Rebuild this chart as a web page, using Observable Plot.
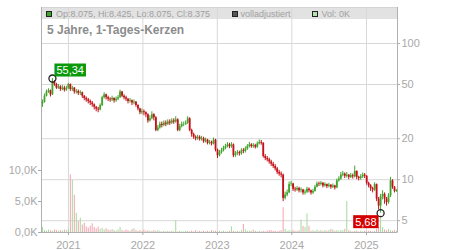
<!DOCTYPE html>
<html><head><meta charset="utf-8">
<script src="https://cdn.jsdelivr.net/npm/d3@7"></script>
<script src="https://cdn.jsdelivr.net/npm/@observablehq/plot@0.6"></script>
<style>
body{margin:0;background:#fff;font-family:Arial,"Liberation Sans",sans-serif;}
#wrap{position:relative;width:450px;height:250px;overflow:hidden;}
#wrap svg{position:absolute;left:0;top:0;}
.band{position:absolute;left:41px;top:8px;width:356px;height:11px;background:#e2e2e2;}
.lg{position:absolute;top:8.5px;font-size:9px;line-height:11px;color:#a0a0a0;white-space:nowrap;}
.sq{position:absolute;top:11px;width:4px;height:4px;border:1px solid #222;}
.title{position:absolute;left:47px;top:22.8px;font-size:12px;line-height:14px;font-weight:bold;color:#8c8c8c;white-space:nowrap;}
</style></head><body><div id="wrap"><div class="band"></div></div>
<script>
// ---- data ----
const priceTicks = [5, 10, 20, 50, 100];
const volumeTicks = [0, 5, 10];
const yearTicks = [2021, 2022, 2023, 2024, 2025];
const titleText = "5 Jahre, 1-Tages-Kerzen";
const legendOHLC = "Op:8.075, Hi:8.425, Lo:8.075, Cl:8.375";
const legendAdj = "volladjustiert";
const legendVol = "Vol: 0K";
const firstOpen = 36;
const closes = [
 37,41,44,45,42,52,50,47,48,46,47,45.5,47,50,46,47,44,44.5,43,43.5,
 41,39.5,38.5,37.5,36.5,35.5,34,33,32.5,35,40,42,40,39,38.5,39.5,38,39,40,44,
 41,40,39,37.5,38,36.5,37,35,33,31,31.5,31,30,27,28,30,28.5,23,24,25.5,
 25,26,25.5,26.5,26,27,26.5,27.5,23,24.5,25.5,25.5,26,28,23,21.5,20.5,20,20.5,19.8,
 20,19,19.5,18.5,18.8,18.3,19.5,16.5,15,15.8,16.3,17,17.5,18,17.5,18,15,15.5,15.8,15.5,
 16.3,16.1,16.8,17.5,18,17.5,17.8,17.3,18.3,18.8,18.5,14.8,14.3,14,13.5,13,12.5,12,11.3,11,
 10.8,7.3,7.7,8,9.2,9.3,8.5,8.4,8.6,8.3,8.4,8.0,8.1,8.5,8.3,8.0,8.2,8.8,9.3,9.2,
 9.4,9.0,9.2,8.9,9.1,8.8,9.0,8.7,9.8,10.1,10.8,11,10.6,10.8,10.4,10.7,10.5,11.5,10.4,10.2,
 10.5,10.8,10.6,9.4,9.0,8.6,8.4,9.2,7.2,6.4,7.5,7.8,7.2,6.8,7.6,9.8,8.8,8.2,8.375
];
const highs = [
 38.5,42.5,45.5,46.5,45.5,55.34,53.5,51,50,49,49,48.5,48.5,51,50.5,48.5,47.5,46,45.5,45,
 44,41.5,40.5,39.5,38.5,37.5,36,34.5,34,36,41,43.5,42.5,41,40,41,40,40.5,41.5,45.5,
 44.5,42,41,39.5,39.5,38.5,38.5,37.5,35.5,33.5,33,32.5,31.5,30.5,29.5,31.5,30.5,29,25,26.5,
 26.5,27,27,27.5,27.5,28,28,29,28,25.5,26.5,26.5,27,29,28.5,23.5,22,21,21.2,21,
 20.8,20.5,20.2,19.8,19.4,19.2,20.2,19.8,16.8,16.4,17,17.6,18.2,18.7,18.5,18.7,18.3,16.1,16.4,16.2,
 16.9,16.9,17.4,18.1,18.8,18.4,18.4,18.2,18.9,19.6,19.4,18.7,15.3,14.8,14.4,13.9,13.4,12.9,12.3,11.7,
 11.4,11,8.1,8.4,9.6,9.7,9.4,8.8,8.9,8.8,8.7,8.5,8.4,8.8,8.7,8.4,8.5,9.1,9.6,9.6,
 9.7,9.5,9.5,9.3,9.4,9.2,9.3,9.1,10.1,10.5,11.3,11.5,11.2,11.3,10.9,11.1,11,12.6,11.6,10.6,
 10.9,11.2,11.1,10.7,9.6,9.2,8.8,9.5,9.3,7.4,7.8,8.3,8,7.4,7.9,10.4,10,8.9,8.425
];
const lows = [
 34,36.5,40.5,43,40.5,41.5,48.5,46,46,44.5,45,44,44.5,46,44.5,44.5,42.5,42.5,41.5,41.5,
 39.5,38,37,36,35,34,32.5,31.5,31,32,34.5,39,38.5,37.5,37,37.5,36.5,37,38,39.5,
 40,38.5,37.5,36,36.5,35,35.5,34,32,30,30,29.5,28.5,26,26.5,27.5,27,22.5,22.5,23.5,
 24,24.5,24.5,25,25,25.5,25.5,26,22.5,22.5,24,24.5,25,25.5,22.5,20.5,19.8,19.3,19.5,19.2,
 19.2,18.5,18.6,18,18,17.7,18,16,14.3,14.7,15.4,16,16.6,17.1,16.9,17,14.5,14.6,15,14.9,
 15.1,15.5,15.7,16.4,17.1,17,17,16.8,17,18,17.9,14.4,13.8,13.5,13,12.5,12.1,11.6,10.9,10.6,
 10.3,6.9,7.1,7.5,7.9,8.9,8.2,8.1,8.2,8,8,7.7,7.7,7.9,8,7.7,7.8,8.1,8.7,8.9,
 9,8.7,8.8,8.6,8.7,8.5,8.6,8.4,8.6,9.6,9.9,10.5,10.2,10.3,10,10.2,10.1,10.3,10,9.8,
 9.9,10.2,10.2,9.1,8.7,8.2,8,8.2,6.9,6,5.68,7.1,6.6,6.4,6.6,7.4,8.5,8,8.075
];
const volumes = [ // in thousands
 0.8,0.3,0.2,0.4,0.3,0.2,0.4,0.3,0.2,0.3,0.2,0.4,0.3,0.5,
 9.3,8.4,6.0,3.1,1.8,2.3,1.2,
 1.5,0.9,0.7,1.0,1.4,0.8,0.6,0.9,0.5,0.7,0.4,0.6,
 0.4,0.3,0.5,0.3,0.2,0.4,0.8,0.3,0.2,0.4,0.3,0.2,0.5,0.6,0.3,0.2,0.3,0.2,0.4,0.2,0.3,0.2,0.2,0.3,0.2,0.3,0.2,0.1,
 0.2,0.1,0.2,0.1,0.2,0.1,1.9,0.1,0.2,0.1,0.1,0.2,
 0.2,0.1,0.2,0.1,0.3,0.1,0.2,0.1,0.2,0.1,0.2,0.1,0.3,0.2,0.2,0.1,0.2,0.1,0.2,0.1,0.1,0.2,0.9,0.2,0.1,0.2,0.1,0.3,
 1.3,
 0.4,0.2,0.2,0.2,0.4,0.2,0.1,0.2,0.1,0.2,0.1,0.2,0.3,0.3,0.2,0.2,0.1,0.2,
 0.3,4.0,0.5,
 0.2,0.3,0.2,0.3,0.2,0.2,0.3,
 2.0,1.0,0.8,3.0,1.0,
 0.2,0.3,0.2,0.4,0.2,0.3,0.2,0.3,0.2,
 0.3,0.5,0.4,0.2,0.3,0.2,0.3,
 0.3,0.5,5.0,0.3,
 0.2,0.1,0.2,0.2,0.1,0.2,0.1,0.2,0.1,0.2,0.2,0.1,0.2,
 0.5,0.8,2.7,0.8,
 0.4,0.3,0.5,0.3,0.2,0.3,0.2
];
const annotations = [
  {i:5, value:55.34, label:"55,34", box:"#0a990a", side:"above"},
  {i:170, value:5.68, label:"5,68", box:"#d40000", side:"below"}
];

// ---- build ----
const t0 = Date.UTC(2020,7,22), t1 = Date.UTC(2025,5,2);
const step = (t1 - t0) / closes.length;
const dates = closes.map((_, i) => new Date(t0 + (i + 0.5) * step));
const candles = closes.map((c, i) => {
  const o = i === 0 ? firstOpen : closes[i-1];
  return {date: dates[i], open: o, close: c,
    high: Math.max(o, c, highs[i]), low: Math.min(o, c, lows[i]),
    vol: volumes[i], up: c >= o};
});
const years = yearTicks.map(y => new Date(Date.UTC(y,0,1)));
const ann = annotations.map(a => ({...a, date: dates[a.i]}));
const GREEN = "#3fa52c", RED = "#c41018", VGREEN = "#a4d99c", VRED = "#f2a3ad";
const AXIS = "#a8a8a8", GRID = "#d8d8d8";
const font = "Arial, 'Liberation Sans', sans-serif";
const base = {width:450, height:250, marginLeft:41, marginRight:53, marginTop:7, marginBottom:18,
  style:{background:"transparent", fontFamily:font}};
const xs = {type:"utc", domain:[new Date(t0), new Date(t1)]};
const ys = {type:"log", domain:[4.095, 183.8]};

const wrap = document.getElementById("wrap");

// layer A: grid, frame, price axis (right)
const A = Plot.plot({...base, x:{...xs, axis:null}, y:{...ys, axis:null}, marks:[
  Plot.ruleX(years, {stroke:GRID}),
  Plot.ruleY(priceTicks, {stroke:GRID}),
  Plot.frame({stroke:"#d4d4d4"}),
  Plot.ruleX([new Date(t1)], {stroke:"#b0b0b0"}),
  Plot.ruleY(priceTicks, {stroke:"#b0b0b0", insetLeft:356, insetRight:-3}),
  Plot.text(priceTicks, {y:d => d, text:d => String(d), frameAnchor:"right", textAnchor:"start",
    dx:4, fill:AXIS, fontSize:11})
]});
wrap.appendChild(A);

// layer B: volume, left axis, time axis
const B = Plot.plot({...base, x:{...xs, axis:null}, y:{domain:[0, 36.3], axis:null}, color:{type:"identity"}, marks:[
  Plot.ruleX(candles, {x:"date", y1:0, y2:"vol", stroke:d => d.up ? VGREEN : VRED, strokeWidth:1}),
  Plot.ruleX([new Date(t0)], {stroke:"#b0b0b0"}),
  Plot.ruleY([0], {stroke:"#b0b0b0"}),
  Plot.axisY(volumeTicks, {anchor:"left", tickSize:3, tickPadding:1,
    tickFormat:v => v.toFixed(1).replace(".", ",") + "K", label:null, fontSize:11, color:AXIS}),
  Plot.axisX(years, {tickSize:3, tickFormat:d => String(d.getUTCFullYear()), label:null, fontSize:11, color:AXIS})
]});
wrap.appendChild(B);

// layer C: candles and annotations
const C = Plot.plot({...base, x:{...xs, axis:null}, y:{...ys, axis:null}, color:{type:"identity"}, marks:[
  Plot.ruleX(candles, {x:"date", y1:"low", y2:"high", stroke:d => d.up ? GREEN : RED, strokeWidth:1}),
  Plot.ruleX(candles, {x:"date", y1:"open", y2:"close", stroke:d => d.up ? GREEN : RED, strokeWidth:1.8}),
  Plot.dot(ann, {x:"date", y:"value", r:3.5, stroke:"#222", strokeWidth:1.3, fill:"none"}),
  Plot.text(ann.filter(a => a.side === "above"), {x:"date", y:"value", text:"label", textAnchor:"start", dx:4, dy:-8, fill:"white", fontSize:11}),
  Plot.text(ann.filter(a => a.side === "below"), {x:"date", y:"value", text:"label", textAnchor:"end", dx:-4, dy:9, fill:"white", fontSize:11})
]});
wrap.appendChild(C);
// boxes behind annotation labels
const texts = C.querySelectorAll('g[aria-label="text"] text');
const order = [...ann.filter(a => a.side === "above"), ...ann.filter(a => a.side === "below")];
texts.forEach((t, k) => {
  const b = t.getBBox();
  const r = document.createElementNS("http://www.w3.org/2000/svg", "rect");
  r.setAttribute("x", b.x - 2); r.setAttribute("y", b.y - 0.5);
  r.setAttribute("width", b.width + 4); r.setAttribute("height", b.height + 1);
  r.setAttribute("fill", order[k].box);
  const tr = t.getAttribute("transform");
  if (tr) r.setAttribute("transform", tr);
  t.parentNode.insertBefore(r, t);
});

// legend and title
function addDiv(cls, css, text) {
  const d = document.createElement("div"); d.className = cls;
  Object.assign(d.style, css); if (text) d.textContent = text; wrap.appendChild(d); return d;
}
addDiv("sq", {left:"46px", background:GREEN});
addDiv("lg", {left:"56px"}, legendOHLC);
addDiv("sq", {left:"232px", background:"#555"});
addDiv("lg", {left:"240.5px"}, legendAdj);
addDiv("sq", {left:"312px", background:"#b6e2ae"});
addDiv("lg", {left:"321.5px"}, legendVol);
addDiv("title", {}, titleText);
</script></body></html>
